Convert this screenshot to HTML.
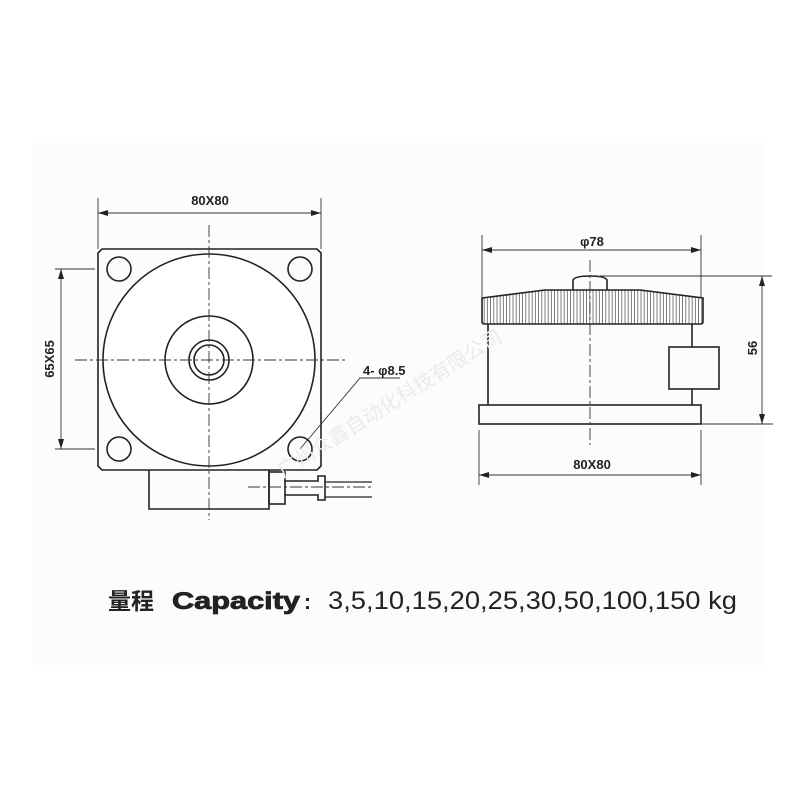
<!DOCTYPE html>
<html><head><style>
body{margin:0;background:#fff;}
svg{display:block;}
text{font-family:"Liberation Sans","Noto Sans CJK SC",sans-serif;fill:#222;}
</style></head><body>
<svg width="800" height="800" viewBox="0 0 800 800" xmlns="http://www.w3.org/2000/svg">
<defs>
<marker id="a" viewBox="0 0 10 6" refX="10" refY="3" markerWidth="10" markerHeight="6" orient="auto-start-reverse" markerUnits="userSpaceOnUse"><path d="M0,0L10,3L0,6z" fill="#222"/></marker>
<pattern id="k" width="3.2" height="10" patternUnits="userSpaceOnUse"><rect width="3.2" height="10" fill="#fff"/><line x1="1" y1="0" x2="1" y2="10" stroke="#444" stroke-width="0.7"/></pattern>
</defs>
<rect x="32" y="143" width="733" height="522" fill="#fcfcfc"/>
<g fill="none" stroke="#222" stroke-width="1.6">
<path d="M102,249H317L321,253V466L317,470H102L98,466V253Z"/>
<circle cx="209" cy="360" r="106" fill="#fff"/>
<circle cx="209" cy="360" r="44"/>
<circle cx="209" cy="360" r="20"/>
<circle cx="209" cy="360" r="15"/>
<circle cx="119" cy="269" r="12"/><circle cx="300" cy="269" r="12"/>
<circle cx="119" cy="449" r="12"/><circle cx="300" cy="449" r="12"/>
<path d="M149,470V509H269V470"/>
<rect x="269" y="472" width="16" height="32"/>
<path d="M285,481H318V476H325V500H318V495H285"/>
<path d="M325,482H372M325,497H372" stroke-width="1.2"/>
<path d="M482,298L545,290H640L703,298V322Q703,324 700,324H485Q482,324 482,322Z" fill="url(#k)"/>
<path d="M573,290V280Q575,276 590,276Q605,276 607,280V290"/>
<path d="M488,324V405M692,324V347M692,389V405"/>
<rect x="479" y="405" width="222" height="19"/>
<rect x="669" y="347" width="50" height="42"/>
</g>
<g stroke="#333" stroke-width="0.9" fill="none">
<path d="M209,225V520M75,360H345M248,487H372M590,260V445" stroke-dasharray="12,3,3,3"/>
<path d="M98,198V249M321,198V249M55,269H95M55,449H95"/>
<path d="M98,213H321" marker-start="url(#a)" marker-end="url(#a)"/>
<path d="M61,269V449" marker-start="url(#a)" marker-end="url(#a)"/>
<path d="M300,449L360,378H400"/>
<path d="M482,235V298M701,235V298M600,276H772M701,424H773M479,430V485M701,430V485"/>
<path d="M482,250H701" marker-start="url(#a)" marker-end="url(#a)"/>
<path d="M762,276V424" marker-start="url(#a)" marker-end="url(#a)"/>
<path d="M479,475H701" marker-start="url(#a)" marker-end="url(#a)"/>
</g>
<g font-size="13" font-weight="bold">
<text x="210" y="205" text-anchor="middle">80X80</text>
<text transform="translate(54,359) rotate(-90)" text-anchor="middle">65X65</text>
<text x="363" y="375">4- φ8.5</text>
<text x="592" y="246" text-anchor="middle">φ78</text>
<text transform="translate(757,348) rotate(-90)" text-anchor="middle">56</text>
<text x="592" y="469" text-anchor="middle">80X80</text>
</g>
<text transform="translate(283,478) rotate(-32)" font-size="20" style="fill:#ebebeb">广州众鑫自动化科技有限公司</text>
<text x="108" y="609" font-size="23" font-weight="bold">量程</text>
<text x="172" y="609" font-size="24" font-weight="bold" stroke="#222" stroke-width="0.8" textLength="128" lengthAdjust="spacingAndGlyphs">Capacity</text>
<text x="304" y="609" font-size="21" font-weight="bold">:</text>
<text x="328" y="609" font-size="25" textLength="409" lengthAdjust="spacingAndGlyphs">3,5,10,15,20,25,30,50,100,150 kg</text>
</svg>
</body></html>
